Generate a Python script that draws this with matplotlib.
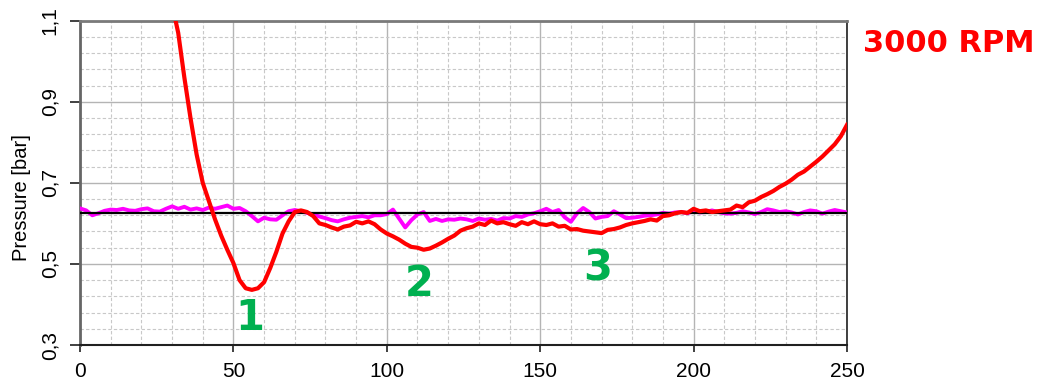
import numpy as np
import matplotlib
matplotlib.use("Agg")
import matplotlib.pyplot as plt
from matplotlib.ticker import MultipleLocator, FixedLocator, FuncFormatter

# Crank angle positions for both pressure traces
red_x = list(range(30, 251, 2))
red_p = [1.14, 1.07, 0.96, 0.86, 0.77, 0.70, 0.655, 0.61, 0.57, 0.535,
         0.502, 0.46, 0.44, 0.436, 0.44, 0.455, 0.49, 0.53, 0.575, 0.605,
         0.628, 0.632, 0.628, 0.618, 0.60, 0.596, 0.59, 0.585, 0.592, 0.595,
         0.604, 0.60, 0.605, 0.598, 0.585, 0.575, 0.568, 0.56, 0.55, 0.542,
         0.54, 0.535, 0.538, 0.545, 0.553, 0.562, 0.57, 0.582, 0.588, 0.592,
         0.60, 0.596, 0.607, 0.60, 0.603, 0.598, 0.594, 0.603, 0.598, 0.605,
         0.598, 0.596, 0.60, 0.592, 0.594, 0.585, 0.586, 0.582, 0.58, 0.578,
         0.576, 0.584, 0.586, 0.59, 0.596, 0.60, 0.603, 0.606, 0.61, 0.607,
         0.618, 0.62, 0.625, 0.628, 0.626, 0.636, 0.63, 0.632, 0.628, 0.63,
         0.632, 0.634, 0.644, 0.64, 0.652, 0.656, 0.665, 0.672, 0.68, 0.69,
         0.698, 0.708, 0.72, 0.728, 0.74, 0.752, 0.765, 0.78, 0.795, 0.815,
         0.843]

magenta_x = list(range(0, 251, 2))
magenta_p = [0.637, 0.632, 0.62, 0.625, 0.631, 0.634, 0.633, 0.636, 0.632, 0.631,
             0.635, 0.637, 0.63, 0.629, 0.636, 0.642, 0.636, 0.641, 0.634, 0.637,
             0.633, 0.639, 0.636, 0.64, 0.644, 0.636, 0.638, 0.63, 0.618, 0.605,
             0.614, 0.61, 0.609, 0.62, 0.63, 0.633, 0.63, 0.626, 0.622, 0.617,
             0.613, 0.608, 0.605, 0.61, 0.614, 0.616, 0.618, 0.615, 0.62, 0.62,
             0.623, 0.634, 0.612, 0.59, 0.608, 0.622, 0.628, 0.606, 0.611, 0.606,
             0.61, 0.609, 0.612, 0.61, 0.606, 0.612, 0.609, 0.611, 0.607, 0.613,
             0.612, 0.618, 0.616, 0.622, 0.625, 0.63, 0.636, 0.628, 0.633, 0.615,
             0.604, 0.625, 0.638, 0.628, 0.612, 0.616, 0.618, 0.63, 0.622, 0.613,
             0.614, 0.616, 0.619, 0.62, 0.622, 0.626, 0.624, 0.627, 0.628, 0.625,
             0.63, 0.627, 0.628, 0.632, 0.628, 0.625, 0.624, 0.626, 0.63, 0.627,
             0.623, 0.628, 0.635, 0.632, 0.628, 0.63, 0.627, 0.622, 0.628, 0.632,
             0.63, 0.624, 0.629, 0.633, 0.63, 0.627]

reference_p = 0.625

# Pressure axis labels
y_ticks = [0.3, 0.5, 0.7, 0.9, 1.1]
x_ticks = [0, 50, 100, 150, 200, 250]

# Numbered markers for the three pressure dips
dip_labels = ["1", "2", "3"]
dip_x = [55.4, 110.5, 168.7]
dip_y = [0.367, 0.450, 0.4875]

title = "3000 RPM"

fig = plt.figure(figsize=(10.45, 3.83), dpi=100)
ax = fig.add_axes([0.0766, 0.0992, 0.7339, 0.8468])

ax.set_xlim(0, 250)
ax.set_ylim(0.3, 1.1)

ax.xaxis.set_major_locator(FixedLocator(x_ticks))
ax.xaxis.set_minor_locator(MultipleLocator(10))
ax.yaxis.set_major_locator(FixedLocator(y_ticks))
ax.yaxis.set_minor_locator(FixedLocator(np.arange(0.3, 1.1001, 0.04)))

ax.grid(which="major", color="#b4b4b4", linewidth=1.0, linestyle="-")
ax.grid(which="minor", color="#c8c8c8", linewidth=0.8, linestyle=(0, (3, 2)))
ax.set_axisbelow(True)

ax.yaxis.set_major_formatter(FuncFormatter(lambda v, p: f"{v:.1f}".replace(".", ",")))

ax.tick_params(axis="both", which="minor", length=0)
ax.tick_params(axis="x", which="major", direction="out", length=5, width=1.2,
               labelsize=15, pad=7, color="#202020")
ax.tick_params(axis="y", which="major", direction="out", length=7, width=1.2,
               labelsize=15, pad=8, color="#202020")
for lab in ax.get_yticklabels():
    lab.set_rotation(90)
    lab.set_va("center")
for lab in ax.get_xticklabels() + ax.get_yticklabels():
    lab.set_fontfamily("Liberation Sans")

ax.spines["left"].set_color("#666666")
ax.spines["left"].set_linewidth(2.0)
ax.spines["top"].set_color("#7a7a7a")
ax.spines["top"].set_linewidth(2.0)
ax.spines["bottom"].set_color("#202020")
ax.spines["bottom"].set_linewidth(1.5)
ax.spines["right"].set_color("#202020")
ax.spines["right"].set_linewidth(1.2)

ax.set_ylabel("Pressure [bar]", fontsize=14.5, family="Liberation Sans", va="center")
ax.yaxis.set_label_coords(-0.0757, 0.455)

ax.plot(magenta_x, magenta_p, color="#ff00ff", linewidth=2.8, zorder=3,
        solid_joinstyle="round")
ax.axhline(reference_p, color="black", linewidth=1.6, zorder=4)
ax.plot(red_x, red_p, color="#ff0000", linewidth=3.0, zorder=5,
        solid_joinstyle="round")

for t, x, y in zip(dip_labels, dip_x, dip_y):
    ax.text(x, y, t, color="#00b050", fontsize=30, fontweight="bold",
            family="DejaVu Sans", ha="center", va="center", zorder=6)

fig.text(0.908, 0.886, title, color="#ff0000", fontsize=22, fontweight="bold",
         family="DejaVu Sans", ha="center", va="center")

fig.savefig("out.png", dpi=100)
